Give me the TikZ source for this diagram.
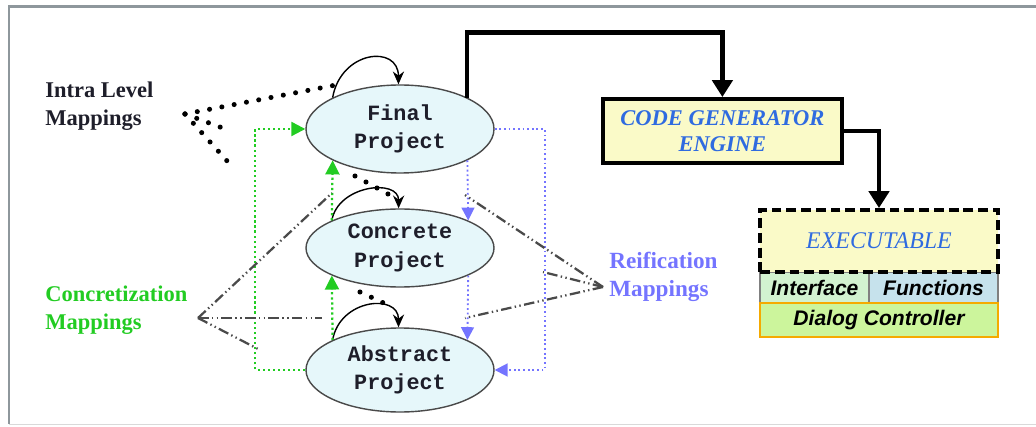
\documentclass[tikz,border=0pt]{standalone}
\usepackage{fontspec}
\setmainfont{Liberation Serif}
\setsansfont{Liberation Sans}
\setmonofont{Liberation Mono}
\usetikzlibrary{arrows.meta,shapes.geometric}
\definecolor{mdaframe}{HTML}{8E979C}
\definecolor{mdaink}{HTML}{1E1E2A}
\definecolor{mdacyan}{HTML}{E6F7FA}
\definecolor{mdayellow}{HTML}{FAFAC8}
\definecolor{mdagreen}{HTML}{22CC22}
\definecolor{mdablue}{HTML}{7474FF}
\definecolor{mdatext}{HTML}{2F6BE0}
\definecolor{mdaiface}{HTML}{D2F2D0}
\definecolor{mdafunc}{HTML}{C6E2EC}
\definecolor{mdadlg}{HTML}{CCF59C}
\definecolor{mdaorange}{HTML}{F5AA00}
\definecolor{mdagrey}{HTML}{4A4A4A}

\begin{document}
\begin{tikzpicture}[
  proj/.style={ellipse, draw=mdagrey, line width=1pt, fill=mdacyan, inner sep=0pt,
               minimum width=4.7cm, align=center, text=mdaink,
               font=\ttfamily\bfseries\fontsize{15.5}{20}\selectfont},
  lbl/.style={anchor=west, inner sep=0pt, align=left,
              font=\bfseries\fontsize{16}{20}\selectfont},
  engine/.style={draw=black, line width=2.8pt, fill=mdayellow, inner sep=0pt,
                 align=center, text=mdatext},
  part/.style={draw=gray, line width=1pt, inner sep=0pt, minimum height=0.775cm,
               font=\sffamily\bfseries\itshape\fontsize{15}{18}\selectfont},
  flow/.style={line width=3pt, -{Triangle[length=0.42cm,width=0.5cm]}},
  self/.style={line width=1pt, -{Stealth[length=0.32cm,width=0.28cm]}},
  intra/.style={line width=3.6pt, line cap=round, dash pattern=on 0pt off 8.9pt},
  concr/.style={mdagreen, line width=1.6pt, dotted, -{Triangle[length=0.35cm,width=0.35cm]}},
  reif/.style={mdablue, line width=1.3pt, dotted, -{Triangle[length=0.32cm,width=0.32cm]}},
  hint/.style={mdagrey, line width=1.6pt,
               dash pattern=on 7.5pt off 2.4pt on 1pt off 2.4pt on 1pt off 2.4pt},
]
\useasboundingbox (0,0) rectangle (25.9,10.65);

% frame
\draw[mdaframe, line width=2pt] (25.9,10.48) -- (0.225,10.48) -- (0.225,0.04);
\draw[gray!30, line width=1pt] (0.225,0.04) -- (25.9,0.04);

% ---------------- the three levels ----------------------------------
\node[proj, minimum height=2.2cm]  (fp) at (10.0,7.425) {Final\\Project};
\node[proj, minimum height=1.95cm] (cp) at (10.0,4.45)  {Concrete\\Project};
\node[proj, minimum height=2.1cm]  (ap) at (10.0,1.4)   {Abstract\\Project};

\draw[self] (fp.155) .. controls +(80:1.2) and +(90:1.0) .. (fp.92);
\draw[self] (cp.158) .. controls +(80:0.9) and +(90:0.75) .. (cp.92);
\draw[self] (ap.156) .. controls +(80:1.05) and +(90:0.85) .. (ap.92);

% concretization (green) and reification (blue)
\draw[concr] (ap.west) -- ++(-1.25,0) |- (fp.west);
\draw[concr] (ap.156) -- (cp.202);
\draw[concr] (cp.158) -- (fp.205);

\draw[reif] (fp.east) -- ++(1.25,0) |- (ap.east);
\draw[reif] (fp.-25) -- (cp.22);
\draw[reif] (cp.-22) -- (ap.24);

% ---------------- labels and their pointers -------------------------
\node[lbl, text=mdaink] (intral) at (1.125,8.0) {Intra Level\\Mappings};
\node[lbl, text=mdagreen] (concrl) at (1.125,2.9) {Concretization\\Mappings};
\node[lbl, text=mdablue, font=\bfseries\fontsize{16.5}{20}\selectfont] (reifl) at (15.225,3.7375)
  {Reification\\Mappings};

\coordinate (intra) at (4.625,7.8);
\coordinate (i1) at (8.4,8.525);
\coordinate (i2) at (5.7,7.4);
\coordinate (i3) at (5.7,6.6);
\coordinate (i4a) at (8.875,6.25);
\coordinate (i4b) at (9.7,5.8);
\coordinate (i5a) at (9.0,3.35);
\coordinate (i5b) at (9.7,3.025);
\draw[intra] (intra) -- (i1);
\draw[intra] (intra) -- (i2);
\draw[intra] (intra) -- (i3);
\draw[intra] (i4a) -- (i4b);
\draw[intra] (i5a) -- (i5b);

\coordinate (concr) at (4.95,2.7);
\coordinate (c1) at (8.3,5.825);
\coordinate (c2) at (8.05,2.7);
\coordinate (c3) at (6.5,1.9);
\foreach \e in {c1,c2,c3}
  \draw[hint] (concr) -- (\e);

\coordinate (reif) at (15.075,3.475);
\coordinate (r1) at (11.625,5.775);
\coordinate (r2) at (13.575,3.85);
\coordinate (r3) at (11.625,2.7);
\foreach \e in {r1,r2,r3}
  \draw[hint] (reif) -- (\e);

% ---------------- generator side ------------------------------------
\node[engine, minimum width=5.975cm, minimum height=1.6cm,
      font=\bfseries\itshape\fontsize{16}{18.5}\selectfont] (cge) at (18.06,7.375)
  {CODE GENERATOR\\ENGINE};

\node[part, fill=mdaiface, minimum width=2.725cm] (iface) at (20.3625,3.4625) {Interface};
\node[part, fill=mdafunc, minimum width=3.225cm] (func) at (23.3375,3.4625) {Functions};
\node[engine, dash pattern=on 7pt off 3.5pt, minimum width=5.95cm, minimum height=1.55cm,
      font=\itshape\fontsize{17}{20}\selectfont] (exe) at (21.975,4.625) {EXECUTABLE};
\node[part, draw=mdaorange, line width=2pt, fill=mdadlg, minimum width=5.95cm,
      minimum height=0.85cm] (dlg) at (21.975,2.65) {Dialog Controller};

\draw[flow] (fp.25) -- ++(0,1.625) -| (cge.north);
\draw[flow] (cge.east) -| (exe.north);

\end{tikzpicture}
\end{document}
